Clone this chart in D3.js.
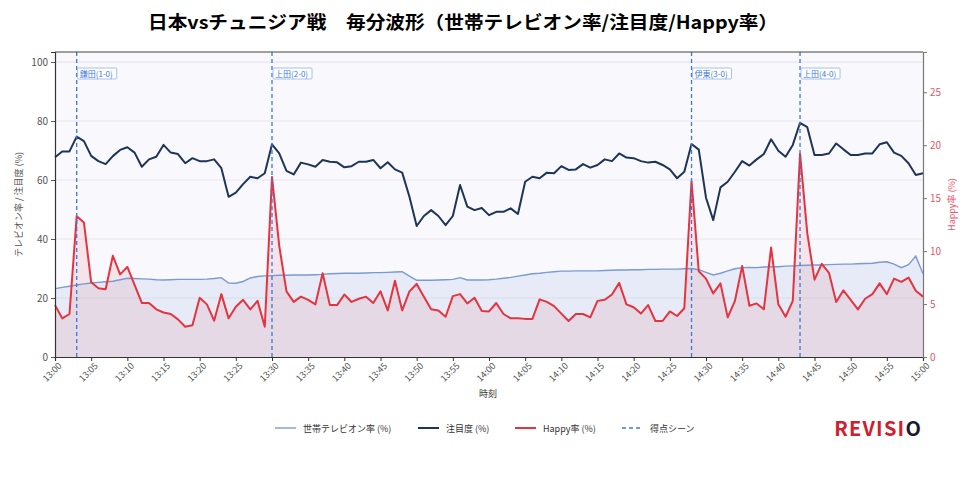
<!DOCTYPE html>
<html>
<head>
<meta charset="utf-8">
<script src="https://cdn.jsdelivr.net/npm/d3@7"></script>
<style>
  body { margin: 0; background: #fff; }
  #chart { width: 976px; height: 480px; }
  text { font-family: "Noto Sans CJK JP", "Noto Sans", sans-serif; }
</style>
</head>
<body>
<div id="chart"></div>
<script>
// 毎分データ 13:00〜15:00
const startTime = "13:00";
const tvRate = [
  23.2, 23.6, 24.0, 24.4, 24.8, 25.1, 25.3, 25.5, 25.7, 26.2,
  26.7, 26.6, 26.5, 26.4, 26.2, 26.1, 26.2, 26.3, 26.3, 26.3,
  26.3, 26.4, 26.6, 26.9, 25.1, 25.0, 25.6, 26.8, 27.3, 27.5,
  27.6, 27.7, 27.7, 27.8, 27.8, 27.8, 27.9, 28.0, 28.2, 28.3,
  28.4, 28.4, 28.4, 28.5, 28.6, 28.6, 28.7, 28.8, 28.9, 27.4,
  26.0, 26.0, 26.0, 26.1, 26.2, 26.3, 26.9, 26.1, 26.1, 26.1,
  26.2, 26.4, 26.7, 27.0, 27.4, 27.8, 28.2, 28.4, 28.7, 28.9,
  29.1, 29.1, 29.2, 29.2, 29.2, 29.2, 29.3, 29.4, 29.5, 29.5,
  29.6, 29.6, 29.7, 29.7, 29.8, 29.8, 29.8, 29.9, 30.0, 29.6,
  28.7, 27.8, 28.4, 29.2, 29.9, 30.3, 30.4, 30.3, 30.5, 30.6,
  30.6, 30.8, 30.9, 31.0, 31.1, 31.2, 31.2, 31.3, 31.4, 31.5,
  31.5, 31.6, 31.7, 31.8, 32.1, 32.3, 31.5, 30.3, 31.3, 34.2,
  28.2
];
const attention = [
  67.7, 69.7, 69.7, 74.7, 73.2, 68.2, 66.4, 65.4, 68.1, 70.2,
  71.1, 69.3, 64.5, 67.0, 67.9, 71.9, 69.3, 68.8, 65.7, 67.4,
  66.4, 66.4, 67.0, 64.0, 54.3, 55.7, 58.6, 61.1, 60.6, 62.3,
  72.1, 69.0, 63.1, 61.9, 65.9, 65.3, 64.5, 66.8, 66.2, 66.0,
  64.3, 64.7, 66.2, 66.2, 66.8, 64.0, 66.0, 63.6, 62.5, 54.3,
  44.4, 47.8, 49.8, 47.8, 44.7, 47.8, 58.3, 51.0, 49.8, 50.5,
  48.1, 49.2, 49.2, 50.4, 48.5, 59.4, 61.1, 60.6, 62.5, 62.3,
  64.7, 63.4, 63.6, 65.4, 64.2, 65.1, 67.0, 66.4, 69.0, 67.6,
  67.4, 66.4, 65.9, 66.2, 65.1, 63.6, 60.6, 62.8, 72.2, 70.3,
  54.0, 46.4, 57.5, 59.4, 62.8, 66.4, 64.9, 67.0, 68.8, 73.8,
  69.9, 67.9, 71.9, 79.4, 77.9, 68.5, 68.5, 69.0, 72.4, 70.4,
  68.5, 68.5, 69.0, 69.0, 72.1, 72.8, 69.3, 68.2, 65.7, 61.7,
  62.3
];
const happyRate = [
  4.9, 3.65, 4.06, 13.3, 12.7, 7.05, 6.5, 6.4, 9.56, 7.8,
  8.5, 6.8, 5.1, 5.1, 4.5, 4.2, 4.06, 3.55, 2.86, 3.0,
  5.6, 4.97, 3.43, 5.94, 3.65, 4.75, 5.4, 4.5, 5.3, 2.86,
  17.0, 10.5, 6.2, 5.2, 5.7, 5.4, 4.97, 7.9, 4.9, 4.9,
  5.9, 5.2, 5.5, 5.7, 5.1, 6.2, 4.4, 7.2, 4.4, 6.2,
  6.9, 5.7, 4.5, 4.4, 3.8, 5.75, 5.94, 5.06, 5.6, 4.35,
  4.3, 5.1, 4.06, 3.65, 3.65, 3.6, 3.6, 5.44, 5.2, 4.8,
  4.1, 3.4, 4.06, 4.06, 3.74, 5.3, 5.4, 5.9, 7.0, 4.97,
  4.7, 4.1, 4.9, 3.4, 3.4, 4.3, 3.87, 4.6, 16.6, 8.1,
  7.4, 6.0, 6.95, 3.74, 5.3, 8.6, 4.84, 5.06, 4.5, 10.35,
  4.97, 3.8, 5.3, 19.2, 11.7, 7.3, 8.8, 7.95, 5.2, 6.3,
  5.4, 4.5, 5.5, 5.94, 6.95, 5.94, 7.4, 7.1, 7.5, 6.25,
  5.7
];
const goalTimes = ["13:03", "13:30", "14:28", "14:43"];
const goalLabels = ["鎌田(1-0)", "上田(2-0)", "伊東(3-0)", "上田(4-0)"];
const leftTicks = [0, 20, 40, 60, 80, 100];
const rightTicks = [0, 5, 10, 15, 20, 25];

const parseTime = d3.timeParse("%H:%M");
const t0 = parseTime(startTime);
const data = tvRate.map((v, i) => ({
  time: d3.timeMinute.offset(t0, i),
  tv: v,
  att: attention[i],
  happy: happyRate[i]
}));

const W = 976, H = 480;
const margin = {top: 52, right: 53, bottom: 123, left: 55};
const width = W - margin.left - margin.right;
const height = H - margin.top - margin.bottom;

const svg = d3.select("#chart").append("svg")
  .attr("width", W)
  .attr("height", H);

svg.append("text")
  .attr("x", 463)
  .attr("y", 29)
  .attr("text-anchor", "middle")
  .attr("font-size", 18)
  .attr("font-weight", "bold")
  .attr("fill", "#000")
  .attr("textLength", 630)
  .attr("lengthAdjust", "spacingAndGlyphs")
  .text("日本vsチュニジア戦　毎分波形（世帯テレビオン率/注目度/Happy率）");

const g = svg.append("g")
  .attr("transform", `translate(${margin.left},${margin.top})`);

const x = d3.scaleTime()
  .domain([data[0].time, data[data.length - 1].time])
  .range([0, width]);
const y = d3.scaleLinear().domain([0, 103.4]).range([height, 0]);
const y2 = d3.scaleLinear().domain([0, 28.8]).range([height, 0]);

// plot background
g.append("rect")
  .attr("width", width)
  .attr("height", height)
  .attr("fill", "#f9f8fd");

// grid
g.append("g")
  .selectAll("line")
  .data(leftTicks.slice(1))
  .join("line")
  .attr("x1", 0)
  .attr("x2", width)
  .attr("y1", d => y(d))
  .attr("y2", d => y(d))
  .attr("stroke", "#e9e5ee")
  .attr("stroke-width", 1.2);

// areas
g.append("path")
  .datum(data)
  .attr("d", d3.area().x(d => x(d.time)).y0(height).y1(d => y(d.tv)))
  .attr("fill", "#7a9ad6")
  .attr("opacity", 0.14);

g.append("path")
  .datum(data)
  .attr("d", d3.area().x(d => x(d.time)).y0(height).y1(d => y2(d.happy)))
  .attr("fill", "#e0485a")
  .attr("opacity", 0.11);

// lines
g.append("path")
  .datum(data)
  .attr("d", d3.line().x(d => x(d.time)).y(d => y(d.tv)))
  .attr("fill", "none")
  .attr("stroke", "#7a9ad2")
  .attr("stroke-width", 1.4);

g.append("path")
  .datum(data)
  .attr("d", d3.line().x(d => x(d.time)).y(d => y(d.att)))
  .attr("fill", "none")
  .attr("stroke", "#1d3557")
  .attr("stroke-width", 2)
  .attr("stroke-linejoin", "round");

g.append("path")
  .datum(data)
  .attr("d", d3.line().x(d => x(d.time)).y(d => y2(d.happy)))
  .attr("fill", "none")
  .attr("stroke", "#e3343f")
  .attr("stroke-width", 2)
  .attr("stroke-linejoin", "round");

// goal scenes
const goals = goalTimes.map((t, i) => ({time: parseTime(t), label: goalLabels[i]}));
const goalG = g.append("g").selectAll("g")
  .data(goals)
  .join("g")
  .attr("transform", d => `translate(${x(d.time)},0)`);

goalG.append("line")
  .attr("y1", 0)
  .attr("y2", height)
  .attr("stroke", "#3c78d8")
  .attr("stroke-width", 1.3)
  .attr("stroke-dasharray", "4,3");

goalG.append("rect")
  .attr("x", 1)
  .attr("y", 16)
  .attr("width", 39)
  .attr("height", 11)
  .attr("fill", "#fff")
  .attr("stroke", "#8fb2e8")
  .attr("stroke-width", 0.8)
  .attr("rx", 1);

goalG.append("text")
  .attr("x", 3)
  .attr("y", 25)
  .attr("font-size", 8)
  .attr("fill", "#3c78d8")
  .text(d => d.label);

// axes
const xAxis = g.append("g")
  .attr("transform", `translate(0,${height})`)
  .call(d3.axisBottom(x).ticks(d3.timeMinute.every(5)).tickFormat(d3.timeFormat("%H:%M")).tickSize(4));
xAxis.select(".domain").attr("stroke", "#333").attr("stroke-width", 1.2);
xAxis.selectAll(".tick line").attr("stroke", "#333");
xAxis.selectAll("text")
  .attr("font-size", 9)
  .attr("fill", "#555")
  .attr("text-anchor", "end")
  .attr("dx", "-0.2em")
  .attr("dy", "0.5em")
  .attr("transform", "rotate(-45)");

const yAxis = g.append("g")
  .call(d3.axisLeft(y).tickValues(leftTicks).tickSize(4));
yAxis.select(".domain").attr("stroke", "#333").attr("stroke-width", 1.2);
yAxis.selectAll(".tick line").attr("stroke", "#555");
yAxis.selectAll("text").attr("font-size", 10).attr("fill", "#555");

const y2Axis = g.append("g")
  .attr("transform", `translate(${width},0)`)
  .call(d3.axisRight(y2).tickValues(rightTicks).tickSize(4));
y2Axis.select(".domain").attr("stroke", "#777").attr("stroke-width", 1.2);
y2Axis.selectAll(".tick line").attr("stroke", "#777");
y2Axis.selectAll("text").attr("font-size", 10).attr("fill", "#e8566a");

// top spine
g.append("line")
  .attr("x1", 0).attr("x2", width)
  .attr("y1", 0).attr("y2", 0)
  .attr("stroke", "#444")
  .attr("stroke-width", 1.2);

// axis labels
svg.append("text")
  .attr("transform", `translate(22,${margin.top + height / 2}) rotate(-90)`)
  .attr("text-anchor", "middle")
  .attr("font-size", 9)
  .attr("fill", "#555")
  .text("テレビオン率 / 注目度 (%)");

svg.append("text")
  .attr("transform", `translate(955,${margin.top + height / 2}) rotate(-90)`)
  .attr("text-anchor", "middle")
  .attr("font-size", 9)
  .attr("fill", "#e8566a")
  .text("Happy率 (%)");

svg.append("text")
  .attr("x", 488)
  .attr("y", 397)
  .attr("text-anchor", "middle")
  .attr("font-size", 9)
  .attr("fill", "#333")
  .text("時刻");

// legend
const legendItems = [
  {label: "世帯テレビオン率 (%)", color: "#7a9ad2", width: 1.4, dash: null, x: 275},
  {label: "注目度 (%)", color: "#1d3557", width: 2, dash: null, x: 418},
  {label: "Happy率 (%)", color: "#e3343f", width: 2, dash: null, x: 515},
  {label: "得点シーン", color: "#3c78d8", width: 1.3, dash: "4,3", x: 622}
];
const legend = svg.append("g").selectAll("g")
  .data(legendItems)
  .join("g")
  .attr("transform", d => `translate(${d.x},428)`);
legend.append("line")
  .attr("x1", 0).attr("x2", 21)
  .attr("stroke", d => d.color)
  .attr("stroke-width", d => d.width)
  .attr("stroke-dasharray", d => d.dash);
legend.append("text")
  .attr("x", 28)
  .attr("y", 3.5)
  .attr("font-size", 9)
  .attr("fill", "#333")
  .text(d => d.label);

// logo
const logo = svg.append("text")
  .attr("x", 922)
  .attr("y", 436)
  .attr("text-anchor", "end")
  .attr("font-size", 20)
  .attr("font-weight", "bold")
  .attr("letter-spacing", 1.2)
  .attr("font-family", "Lato, sans-serif");
logo.append("tspan").attr("fill", "#d0202f").text("REVISI");
logo.append("tspan").attr("fill", "#1a1a2e").text("O");
</script>
</body>
</html>
